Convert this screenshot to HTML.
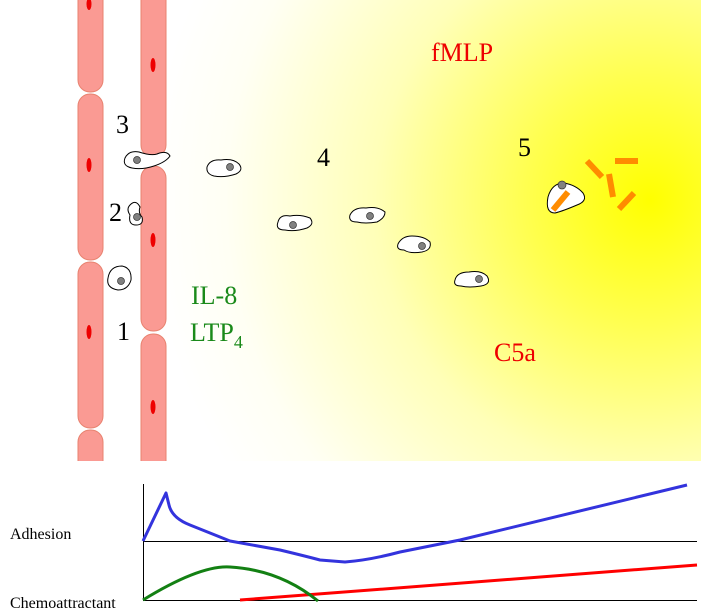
<!DOCTYPE html>
<html><head><style>
html,body{margin:0;padding:0;background:#fff;}
svg{display:block;}
text{font-family:"Liberation Serif",serif;}
</style></head><body>
<svg width="701" height="616" viewBox="0 0 701 616" xmlns="http://www.w3.org/2000/svg">
<defs>
<radialGradient id="yg" cx="650" cy="200" r="500" gradientUnits="userSpaceOnUse">
<stop offset="0" stop-color="#ffff00"/>
<stop offset="0.25" stop-color="#ffff50"/>
<stop offset="0.55" stop-color="#ffffb8"/>
<stop offset="0.85" stop-color="#fffff4"/>
<stop offset="1" stop-color="#ffffff"/>
</radialGradient>
</defs>
<rect x="0" y="0" width="701" height="616" fill="#fff"/>
<rect x="165" y="0" width="536" height="462" fill="url(#yg)"/>
<g fill="#fa9a93" stroke="#e8826f" stroke-width="1">
<rect x="78" y="-20" width="25" height="112" rx="12"/>
<rect x="78" y="94" width="25" height="166" rx="12"/>
<rect x="78" y="262" width="25" height="166" rx="12"/>
<rect x="78" y="430" width="25" height="50" rx="12"/>
<rect x="141" y="-20" width="25" height="177" rx="12"/>
<rect x="141" y="166" width="25" height="165" rx="12"/>
<rect x="141" y="334" width="25" height="146" rx="12"/>
</g>
<rect x="0" y="461" width="701" height="30" fill="#fff"/>
<g fill="#ee0000">
<ellipse cx="89" cy="4" rx="2.5" ry="6"/>
<ellipse cx="89" cy="165" rx="2.5" ry="7"/>
<ellipse cx="89" cy="332" rx="2.5" ry="7"/>
<ellipse cx="153" cy="65" rx="2.5" ry="7"/>
<ellipse cx="153" cy="240" rx="2.5" ry="7"/>
<ellipse cx="153" cy="407" rx="2.5" ry="7"/>
</g>
<g fill="#fff" stroke="#000" stroke-width="1">
<path d="M108,278 q2,-12 14,-12 q10,2 9,14 q-3,10 -13,10 q-12,-2 -10,-12z"/>
<path d="M130,205 q6,-6 10,2 q-2,6 2,10 q2,8 -6,8 q-8,0 -6,-10 q-4,-6 0,-10z"/>
<path d="M125,158 q4,-8 14,-6 q12,4 18,2 q10,-4 13,2 q-4,6 -16,10 q-12,4 -22,2 q-10,-2 -7,-10z"/>
<path d="M207,167 q3,-8 14,-7 q12,-2 18,4 q5,6 -3,10 q-12,4 -22,2 q-8,-2 -7,-9z"/>
<path d="M278,222 q2,-8 12,-6 q10,-2 20,2 q5,6 -3,10 q-12,4 -22,2 q-10,0 -7,-8z"/>
<path d="M350,215 q4,-8 16,-7 q12,-2 19,4 q0,6 -8,10 q-12,2 -20,0 q-9,0 -7,-7z"/>
<path d="M398,244 q4,-8 14,-8 q12,0 18,6 q2,8 -8,10 q-12,2 -18,-2 q-8,0 -6,-6z"/>
<path d="M455,280 q2,-8 14,-8 q12,-2 18,4 q5,8 -6,10 q-12,2 -20,0 q-8,0 -6,-6z"/>
<path d="M548,197 q4,-14 16,-14 q12,2 19,10 q5,8 -6,12 q-14,6 -22,8 q-10,0 -7,-16z"/>
</g>
<g fill="#808080" stroke="#333" stroke-width="0.7">
<circle cx="121" cy="281" r="3.5"/>
<circle cx="137" cy="217" r="3.5"/>
<circle cx="137" cy="160" r="3.5"/>
<circle cx="230" cy="167" r="3.5"/>
<circle cx="293" cy="225" r="3.5"/>
<circle cx="370" cy="216" r="3.5"/>
<circle cx="422" cy="246" r="3.5"/>
<circle cx="479" cy="279" r="3.5"/>
<circle cx="562" cy="185" r="4"/>
</g>
<g stroke="#ff8c00" stroke-width="6">
<line x1="553" y1="210" x2="568" y2="192"/>
<line x1="587" y1="161" x2="602" y2="177"/>
<line x1="615" y1="161" x2="638" y2="161"/>
<line x1="609" y1="174" x2="613" y2="197"/>
<line x1="619" y1="209" x2="634" y2="193"/>
</g>
<g font-size="26">
<text x="116" y="133" fill="#000">3</text>
<text x="109" y="221" fill="#000">2</text>
<text x="117" y="340" fill="#000">1</text>
<text x="317" y="166" fill="#000">4</text>
<text x="518" y="156" fill="#000">5</text>
<text x="431" y="61" fill="#ee0000">fMLP</text>
<text x="494" y="361" fill="#ee0000">C5a</text>
<text x="191" y="304" fill="#1a8a1a">IL-8</text>
<text x="190" y="341" fill="#1a8a1a">LTP<tspan font-size="18" dy="7">4</tspan></text>
</g>
<g stroke="#000" stroke-width="1" fill="none">
<line x1="143.5" y1="484" x2="143.5" y2="601"/>
<line x1="143" y1="541.5" x2="697" y2="541.5"/>
<line x1="143" y1="600.5" x2="697" y2="600.5"/>
</g>
<g font-size="16" fill="#000">
<text x="10" y="539">Adhesion</text>
<text x="10" y="608">Chemoattractant</text>
</g>
<path d="M240,600 L697,565" stroke="#ff0000" stroke-width="3" fill="none"/>
<path d="M143,600 Q200,565 230,567 Q280,570 318,601" stroke="#138013" stroke-width="3" fill="none"/>
<path d="M143,541 L166,493 L169,505 Q172,518 190,525 L230,541 L280,550 Q305,556 320,560 L345,562 Q370,560 400,552 L460,540 L687,485" stroke="#3333dd" stroke-width="3" fill="none" stroke-linejoin="round"/>
</svg>
</body></html>
